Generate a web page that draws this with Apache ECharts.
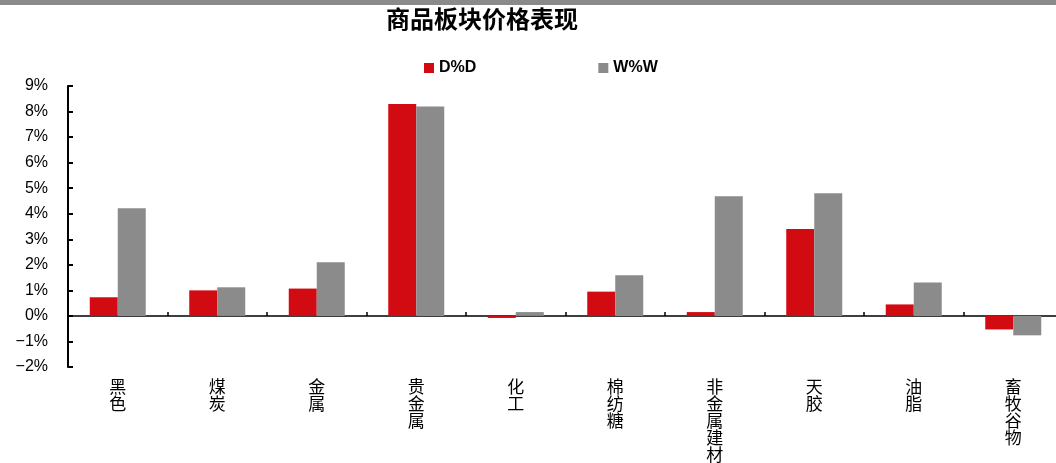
<!DOCTYPE html>
<html>
<head>
<meta charset="utf-8">
<script src="https://cdn.jsdelivr.net/npm/echarts@6/dist/echarts.min.js"></script>
<style>
html,body{margin:0;padding:0;background:#fff;overflow:hidden;}
#chart{width:1066px;height:463px;}
</style>
</head>
<body>
<div id="chart"></div>
<script>
const categories = ['黑色','煤炭','金属','贵金属','化工','棉纺糖','非金属建材','天胶','油脂','畜牧谷物'];
const dayChange = [0.73, 1.00, 1.07, 8.30, -0.08, 0.95, 0.15, 3.40, 0.45, -0.53];
const weekChange = [4.21, 1.12, 2.10, 8.20, 0.15, 1.59, 4.68, 4.80, 1.31, -0.76];
const seriesNames = ['D%D', 'W%W'];
const yMin = -2, yMax = 9, yStep = 1;

const chart = echarts.init(document.getElementById('chart'), null, {renderer: 'canvas'});
const cjk = '"Noto Sans CJK SC", "Noto Sans", sans-serif';
const latin = '"Liberation Sans", Arial, sans-serif';
chart.setOption({
  animation: false,
  backgroundColor: '#fff',
  graphic: [{
    type: 'rect', left: 0, top: 0,
    shape: {width: 1066, height: 5},
    style: {fill: '#8a8a8a'}
  }],
  title: {
    text: '商品板块价格表现',
    left: 386, top: 7, padding: 0,
    textStyle: {fontFamily: cjk, fontSize: 24, fontWeight: 'bold', color: '#000'}
  },
  legend: {
    data: seriesNames,
    left: 424, top: 60, padding: 0,
    icon: 'rect', itemWidth: 10, itemHeight: 10, itemGap: 122,
    textStyle: {fontFamily: latin, fontSize: 16, fontWeight: 'bold', color: '#000'}
  },
  grid: {left: 68, width: 995, top: 86, bottom: 96, containLabel: false},
  xAxis: [{
    type: 'category', data: categories, position: 'top',
    axisLine: {onZero: true, lineStyle: {color: '#000', width: 1.5}},
    axisTick: {show: true, inside: false, length: 4, lineStyle: {color: '#000', width: 1.5}},
    axisLabel: {show: false},
    splitLine: {show: false}
  }, {
    type: 'category', data: categories, position: 'bottom',
    axisLine: {show: false, onZero: false},
    axisTick: {show: false},
    axisLabel: {
      show: true, interval: 0, margin: 11,
      fontFamily: cjk, fontSize: 17, lineHeight: 17, color: '#000',
      formatter: v => v.split('').join('\n')
    },
    splitLine: {show: false}
  }],
  yAxis: {
    type: 'value', min: yMin, max: yMax, interval: yStep,
    axisLine: {show: true, lineStyle: {color: '#000', width: 2}},
    axisTick: {show: true, inside: true, length: 5, lineStyle: {color: '#000', width: 2}},
    axisLabel: {
      fontFamily: latin, fontSize: 16, color: '#000', margin: 20,
      formatter: v => (v < 0 ? '\u2212' + Math.abs(v) : v) + '%'
    },
    splitLine: {show: false}
  },
  series: [{
    name: seriesNames[0], type: 'bar', xAxisIndex: 0, data: dayChange,
    barWidth: 28, barGap: '0%',
    itemStyle: {color: '#d20a12'}
  }, {
    name: seriesNames[1], type: 'bar', xAxisIndex: 0, data: weekChange,
    barWidth: 28, barGap: '0%',
    itemStyle: {color: '#8b8b8b'}
  }]
});
</script>
</body>
</html>
